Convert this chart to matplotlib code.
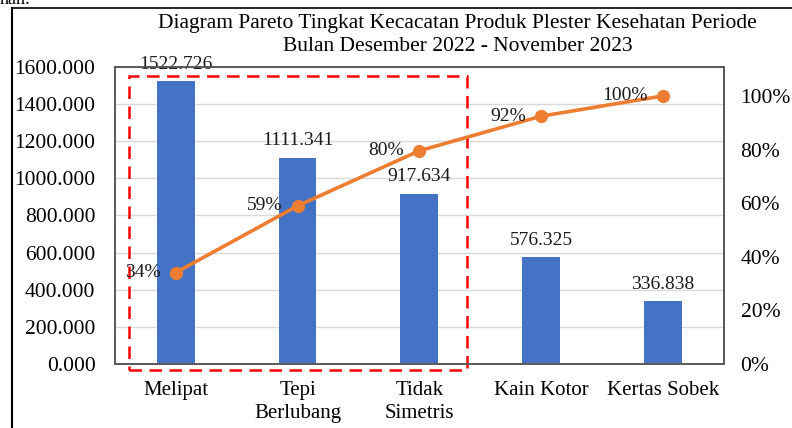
import matplotlib.pyplot as plt
from matplotlib.patches import Rectangle
import numpy as np

categories = ['Melipat', 'Tepi\nBerlubang', 'Tidak\nSimetris', 'Kain Kotor', 'Kertas Sobek']
defects = [1522.726, 1111.341, 917.634, 576.325, 336.838]
bar_labels = ['1522.726', '1111.341', '917.634', '576.325', '336.838']
cum_labels = ['34%', '59%', '80%', '92%', '100%']

title = ('Diagram Pareto Tingkat Kecacatan Produk Plester Kesehatan Periode\n'
         'Bulan Desember 2022 - November 2023')

plt.rcParams['font.family'] = ['Liberation Serif', 'DejaVu Serif']

vals = np.array(defects)
cum = np.cumsum(vals) / vals.sum()
x = np.arange(len(categories))

fig = plt.figure(figsize=(7.92, 4.28), dpi=100)
ax = fig.add_axes([0.145, 0.1495, 0.769, 0.694])

ax.bar(x, vals, width=0.31, color='#4472C4', zorder=2)
for xi, v, lab in zip(x, vals, bar_labels):
    ax.annotate(lab, (xi, v), xytext=(0, 6), textcoords='offset points',
                ha='center', va='bottom', fontsize=14, color='#1a1a1a')

ax.set_xlim(-0.5, len(categories) - 0.5)
ax.set_ylim(0, 1600)
ax.set_yticks(np.arange(0, 1601, 200))
ax.set_yticklabels([f'{t:.3f}' for t in np.arange(0, 1601, 200)])
ax.set_xticks(x)
ax.set_xticklabels(categories, linespacing=1.3)
ax.tick_params(axis='y', length=0, pad=14, labelsize=15.5)
ax.tick_params(axis='x', length=0, pad=12, labelsize=15)
ax.yaxis.grid(True, color='#D9D9D9', linewidth=1, zorder=0)
ax.set_axisbelow(True)
for s in ax.spines.values():
    s.set_color('#595959')
    s.set_linewidth(1.2)

ax2 = ax.twinx()
ax2.plot(x, cum, color='#ED7D31', linewidth=2.6, marker='o', markersize=8.5, zorder=3)
for xi, c, lab in zip(x, cum, cum_labels):
    ax2.annotate(lab, (xi, c), xytext=(-11, 0), textcoords='offset points',
                 ha='right', va='center', fontsize=14, color='#1a1a1a')
ax2.set_ylim(0, 1.108)
ax2.set_yticks([0, 0.2, 0.4, 0.6, 0.8, 1.0])
ax2.set_yticklabels(['0%', '20%', '40%', '60%', '80%', '100%'])
ax2.tick_params(axis='y', length=0, pad=12, labelsize=15.5)
for s in ax2.spines.values():
    s.set_color('#595959')
    s.set_linewidth(1.2)

# red dashed box around the first three categories
ax.add_patch(Rectangle((-0.38, -32), 2.77, 1583, fill=False, edgecolor='#FF0000',
                       linestyle=(0, (5, 3)), linewidth=1.8, clip_on=False, zorder=5))

fig.text(0.578, 0.919, title, ha='center', va='center', fontsize=15.5,
         linespacing=1.3)

# outer frame of the page
fig.add_artist(plt.Line2D([0.015, 0.015], [0, 0.981], color='black', linewidth=1.5))
fig.add_artist(plt.Line2D([0.015, 1], [0.981, 0.981], color='black', linewidth=1.2))
fig.text(0.0, 1.0, 'nan:', ha='left', va='center', fontsize=13)

fig.savefig('out.png', dpi=100)
